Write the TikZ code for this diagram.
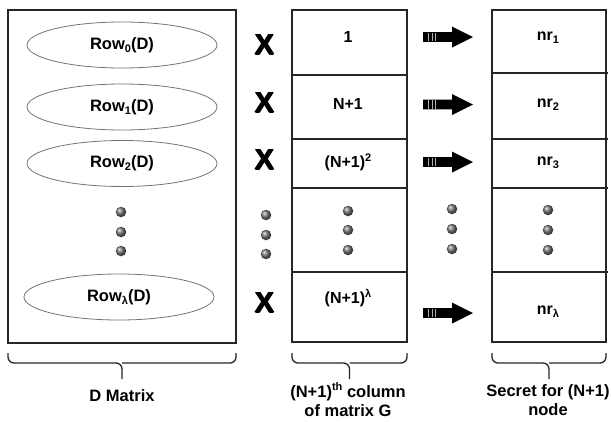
\documentclass[tikz,border=0pt]{standalone}
\usepackage{fontspec}
\setmainfont{Liberation Sans}
\usetikzlibrary{shapes.geometric}
\newcommand{\lowtxt}[1]{\raisebox{-0.35ex}{\fontsize{11}{11}\selectfont #1}}
\newcommand{\hightxt}[1]{\raisebox{0.75ex}{\fontsize{11}{11}\selectfont #1}}
\begin{document}
\begin{tikzpicture}[x=1pt,y=-1pt,
  frame/.style={draw=black!85,line width=1.3pt},
  rowell/.style={ellipse,draw=black!55,line width=0.8pt,minimum width=190pt,minimum height=46pt,inner sep=0pt,font=\bfseries\fontsize{16.5}{18}\selectfont},
  celltxt/.style={font=\bfseries\fontsize{16}{18}\selectfont},
  mult/.style={font=\bfseries\fontsize{29}{30}\selectfont,inner sep=0pt},
  dot/.style={circle,inner sep=0pt,minimum size=10.5pt,shading=ball,ball color=black!55},
  caption/.style={font=\bfseries\fontsize{16.5}{19.5}\selectfont,align=center},
  bracel/.style={line width=1.3pt,black!85}
]
\useasboundingbox (0,0) rectangle (611,421);

% left block: rows of D
\node[frame,minimum width=228pt,minimum height=333pt,inner sep=0pt] (dbox) at (122,176.5) {};
\node[rowell] (r0) at (122,45) {Row\lowtxt{0}(D)};
\node[rowell] (r1) at (122,107) {Row\lowtxt{1}(D)};
\node[rowell] (r2) at (122,163.5) {Row\lowtxt{2}(D)};
\node[rowell] (rl) at (119,297) {Row\lowtxt{λ}(D)};
\foreach \y in {212,232,251} \node[dot] at (121,\y) {};

% multiplication signs, set several times with small offsets for a heavy stroke
\foreach \y/\n in {45/a,103/b,160/c,303/d} {
  \node[mult] (x\n) at (264.5,\y) {X};
  \foreach \dx/\dy in {-0.6/0,0.6/0,0/-0.5,0/0.5} \node[mult] at (264.5+\dx,\y+\dy) {X};
}
\foreach \y in {215,235,254} \node[dot] at (266,\y) {};

% column of G
\node[frame,minimum width=115pt,minimum height=332pt,inner sep=0pt] (gbox) at (349.5,176) {};
\foreach \y in {75,139,188,272} \draw[frame] (gbox.west |- 0,\y) -- (gbox.east |- 0,\y);
\node[celltxt] (g1) at (348,37) {1};
\node[celltxt] (g2) at (348,104) {N+1};
\node[celltxt] (g3) at (348,162) {(N+1)\hightxt{2}};
\node[celltxt] (gl) at (348,298) {(N+1)\hightxt{λ}};
\foreach \y in {211,230,250} \node[dot] at (348,\y) {};

% arrows
\foreach \y in {104.5,37,162,313} {
  \fill[black] (423,\y-4.8) -- (452,\y-4.8) -- (452,\y-10.5) -- (473,\y) -- (452,\y+10.5) -- (452,\y+4.8) -- (423,\y+4.8) -- cycle;
  \foreach \xx in {428,432,435.5} \draw[white!70!black,line width=0.35pt] (\xx,\y-4.2) -- (\xx,\y+4.2);
}
\foreach \y in {209,229,249} \node[dot] at (452,\y) {};

% secret shares
\node[frame,minimum width=114pt,minimum height=332pt,inner sep=0pt] (sbox) at (549,176) {};
\foreach \y in {73,139,188,272} \draw[frame] (sbox.west |- 0,\y) -- (608,\y);
\node[celltxt] (s1) at (548,38) {nr\lowtxt{1}};
\node[celltxt] (s2) at (548,105) {nr\lowtxt{2}};
\node[celltxt] (s3) at (548,163) {nr\lowtxt{3}};
\node[celltxt] (sl) at (548,312) {nr\lowtxt{λ}};
\foreach \y in {210,230,250} \node[dot] at (548,\y) {};

% braces under the blocks
\foreach \a/\b in {8/236,292/407,492/606} {
  \pgfmathsetmacro{\m}{(\a+\b)/2}
  \draw[bracel,rounded corners=6pt] (\a,353) -- (\a,363) -- (\m,363) -- (\m,379);
  \draw[bracel,rounded corners=6pt] (\b,353) -- (\b,363) -- (\m,363);
}

% captions
\node[caption] (c1) at (122,396) {D Matrix};
\node[caption] (c2) at (348,400) {(N+1)\hightxt{th} column\\of matrix G};
\node[caption] (c3) at (548,400) {Secret for (N+1)\\node};
\end{tikzpicture}
\end{document}
